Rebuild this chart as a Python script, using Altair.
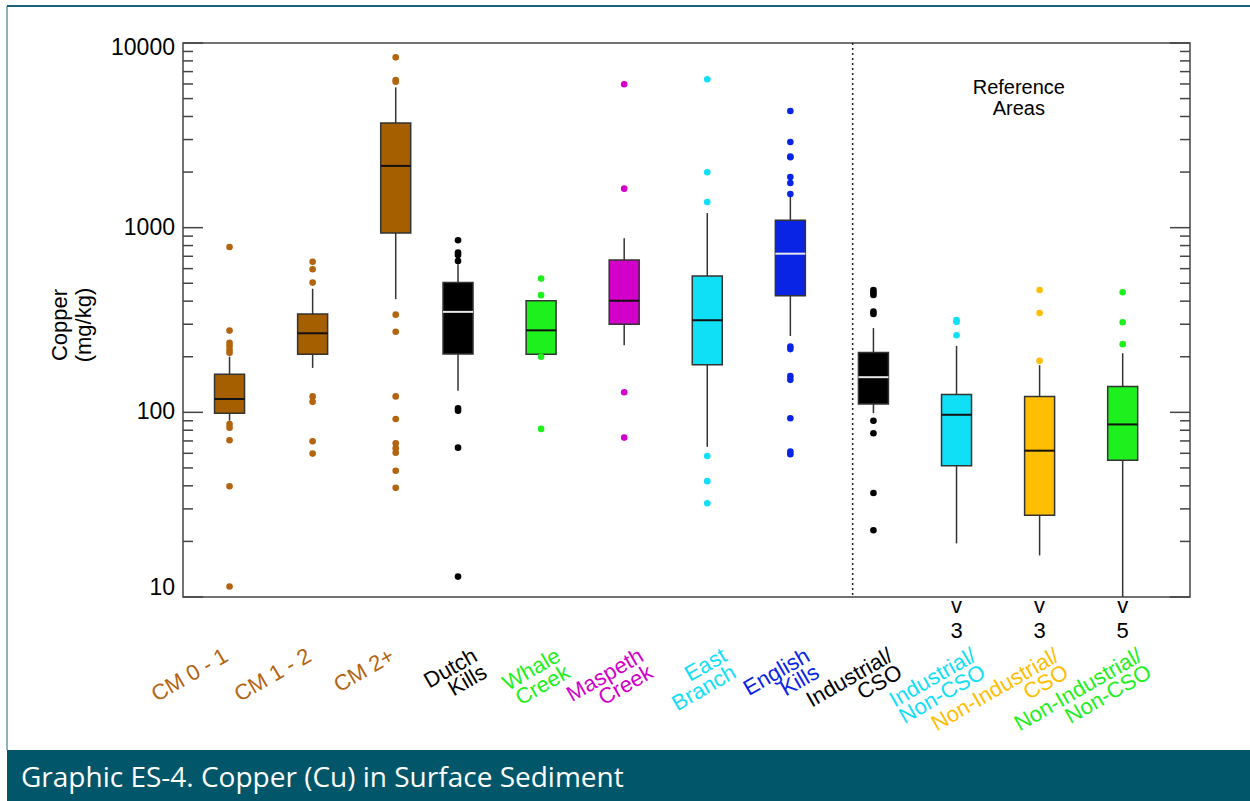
import altair as alt
import pandas as pd

# ---- data -----------------------------------------------------------------
categories = ["CM 0 - 1", "CM 1 - 2", "CM 2+", "Dutch\nKills", "Whale\nCreek",
              "Maspeth\nCreek", "East\nBranch", "English\nKills", "Industrial/\nCSO",
              "Industrial/\nNon-CSO", "Non-Industrial/\nCSO", "Non-Industrial/\nNon-CSO"]
# horizontal slot of each box on the 0-12 category axis
slot = [0.5, 1.5, 2.5, 3.25, 4.25, 5.25, 6.25, 7.25, 8.25, 9.25, 10.25, 11.25]

whisker_low = [90, 174, 410, 131, 206, 231, 65, 259, 99, 19.5, 16.8, 10]
q1 = [99, 206, 936, 207, 206, 300, 181, 428, 111, 51.3, 27.7, 55]
median = [118, 268, 2160, 350, 278, 402, 315, 723, 155, 97, 62, 86]
q3 = [161, 341, 3690, 504, 402, 668, 548, 1097, 211, 125, 122, 138]
whisker_high = [200, 467, 5750, 633, 402, 877, 1200, 1470, 286, 229, 180, 209]

outliers = [
    [786, 277, 238, 229, 218, 210, 86.5, 82.6, 70.6, 39.8, 11.4],
    [654, 595, 504, 122, 114, 69.7, 59.8],
    [8365, 6300, 6176, 338, 273, 122, 92, 68, 64, 60.5, 48.3, 39],
    [855, 733, 711, 660, 105, 102, 64.4, 12.9],
    [530, 431, 200, 81.3],
    [5975, 1626, 128.5, 73],
    [6360, 1995, 1378, 58, 42.4, 32.2],
    [4285, 2910, 2430, 2405, 1882, 1746, 1522, 227, 220, 157, 150, 92.9, 61.3, 59.3],
    [460, 445, 432, 351, 341, 90, 77, 36.6, 23],
    [316, 309, 261.5],
    [460, 345, 190],
    [447, 307.5, 234],
]

# number of samples below the plotted range
below_cats = ["Industrial/\nNon-CSO", "Non-Industrial/\nCSO", "Non-Industrial/\nNon-CSO"]
below_counts = [3, 3, 5]

# divider between study areas and reference areas, and the heading's slot
divider_slot = [8]
ref_label_slot = [10]

# ---- styling ----------------------------------------------------------------
BROWN_BOX, BROWN = "#A65F00", "#B3640F"
GREEN, MAGENTA, CYAN, BLUE, ORANGE = "#1EF01E", "#D200C8", "#10E0F6", "#0A24E6", "#FFBE00"
box_fill = [BROWN_BOX] * 3 + ["#000000", GREEN, MAGENTA, CYAN, BLUE, "#000000", CYAN, ORANGE, GREEN]
text_color = [BROWN] * 3 + ["#000000", GREEN, MAGENTA, CYAN, BLUE, "#000000", CYAN, ORANGE, GREEN]
median_color = ["#111111"] * 12
for i in (3, 7, 8):
    median_color[i] = "#E8E8E8"

FONT = "Liberation Sans"
W, H = 1007, 554
LEFT, TOP = 183, 43

boxes = pd.DataFrame({
    "cat": categories, "idx": list(range(len(categories))), "slot": slot,
    "lo": whisker_low, "q1": q1, "med": median, "q3": q3, "hi": whisker_high,
    "fill": box_fill, "tcol": text_color, "mcol": median_color,
})
pts = pd.DataFrame([
    {"slot": s, "v": v, "tcol": c}
    for s, vals, c in zip(slot, outliers, text_color) for v in vals
])
below = pd.DataFrame({"cat": below_cats, "n": [str(n) for n in below_counts]}).merge(
    boxes[["cat", "slot"]], on="cat")
one = pd.DataFrame({"k": [0]})

ysc = alt.Scale(type="log", domain=[10, 10000], nice=False)
xsc = alt.Scale(domain=[0, 12], nice=False, zero=False)
X = alt.X("slot:Q", scale=xsc, axis=None)

base = alt.Chart(boxes)

whiskers = base.mark_rule(color="#333333", strokeWidth=1.5).encode(
    x=X, y=alt.Y("lo:Q", scale=ysc, axis=None), y2="hi:Q")

box = base.mark_bar(size=30, stroke="#333333", strokeWidth=1.5).encode(
    x=X, y=alt.Y("q1:Q", scale=ysc, axis=None), y2="q3:Q",
    fill=alt.Fill("fill:N", scale=None))

meds = base.mark_tick(orient="horizontal", size=30, thickness=2, opacity=1).encode(
    x=X, y=alt.Y("med:Q", scale=ysc, axis=None), color=alt.Color("mcol:N", scale=None))

dots = alt.Chart(pts).mark_circle(size=44, opacity=1).encode(
    x=X, y=alt.Y("v:Q", scale=ysc, axis=None), color=alt.Color("tcol:N", scale=None))

divider = alt.Chart(pd.DataFrame({"slot": divider_slot})).mark_rule(
    color="#222222", strokeDash=[2, 3], strokeWidth=1.5).encode(
    x=X, y=alt.value(0), y2=alt.value(H))

# inward tick marks on both vertical edges
major = [10, 100, 1000, 10000]
minor = [m * d for d in (10, 100, 1000) for m in range(2, 10)]
maj_df = pd.DataFrame({"v": major})
min_df = pd.DataFrame({"v": minor})
TICK = dict(color="#444444", strokeWidth=1.5)
YT = alt.Y("v:Q", scale=ysc, axis=None)
tl_major = alt.Chart(maj_df).mark_rule(**TICK).encode(x=alt.value(0), x2=alt.value(20), y=YT)
tl_minor = alt.Chart(min_df).mark_rule(**TICK).encode(x=alt.value(0), x2=alt.value(10), y=YT)
tr_major = alt.Chart(maj_df).mark_rule(**TICK).encode(x=alt.value(W - 20), x2=alt.value(W), y=YT)
tr_minor = alt.Chart(min_df).mark_rule(**TICK).encode(x=alt.value(W - 10), x2=alt.value(W), y=YT)

# value labels of the log axis; the end labels sit just inside the frame
def ylabels(values, dy):
    return alt.Chart(pd.DataFrame({"v": values})).mark_text(
        font=FONT, fontSize=23, align="right", baseline="middle", dy=dy, color="#000000").encode(
        x=alt.value(-8), y=YT, text=alt.Text("v:Q", format="d"))

ylab_top = ylabels([10000], 5)
ylab_mid = ylabels([100, 1000], 0)
ylab_bot = ylabels([10], -9)

ytitle = alt.Chart(one).mark_text(
    font=FONT, fontSize=22, lineHeight=24, angle=270, align="center", baseline="middle",
    lineBreak="\n", color="#000000").encode(
    x=alt.value(-123), y=alt.value(282), text=alt.value("Copper\n(mg/kg)"))

# rotated, coloured group names under the plot, on an even grid
labels = base.transform_calculate(lx="datum.idx + 0.46").mark_text(
    angle=330, align="right", baseline="middle", lineBreak="\n", font=FONT,
    fontSize=22, lineHeight=19).encode(
    x=alt.X("lx:Q", scale=xsc, axis=None), y=alt.value(611),
    text="cat:N", color=alt.Color("tcol:N", scale=None))

below_v = alt.Chart(below).mark_text(font=FONT, fontSize=22, baseline="middle").encode(
    x=X, y=alt.value(563), text=alt.value("v"))
below_n = alt.Chart(below).mark_text(font=FONT, fontSize=22, baseline="middle").encode(
    x=X, y=alt.value(588), text="n:N")

ref_txt = alt.Chart(pd.DataFrame({"slot": ref_label_slot})).mark_text(
    font=FONT, fontSize=20, lineBreak="\n", lineHeight=21,
    baseline="middle", align="center").encode(
    x=X, y=alt.value(45), text=alt.value("Reference\nAreas"))

# page frame and caption banner
frame_left = alt.Chart(one).mark_rule(color="#6A97A6", strokeWidth=1.5).encode(
    x=alt.value(7 - LEFT), y=alt.value(6 - TOP), y2=alt.value(750 - TOP))
frame_top = alt.Chart(one).mark_rule(color="#1A6079", strokeWidth=2).encode(
    x=alt.value(7 - LEFT), x2=alt.value(1250 - LEFT), y=alt.value(6 - TOP))
banner = alt.Chart(one).mark_rect(color="#02566A").encode(
    x=alt.value(7 - LEFT), x2=alt.value(1250 - LEFT), y=alt.value(750 - TOP), y2=alt.value(801 - TOP))
caption = alt.Chart(one).mark_text(font="Open Sans", fontSize=28, color="#FFFFFF",
                                   align="left", baseline="middle").encode(
    x=alt.value(21 - LEFT), y=alt.value(779 - TOP),
    text=alt.value("Graphic ES-4. Copper (Cu) in Surface Sediment"))

chart = alt.layer(
    banner, frame_left, frame_top, caption,
    whiskers, box, meds, dots, divider,
    tl_major, tl_minor, tr_major, tr_minor,
    ylab_top, ylab_mid, ylab_bot, ytitle,
    labels, below_v, below_n, ref_txt,
).properties(
    width=W, height=H,
    autosize=alt.AutoSizeParams(type="none"),
    padding={"left": LEFT, "top": TOP, "right": 1250 - LEFT - W, "bottom": 801 - TOP - H},
    background="#FFFFFF",
).configure_view(stroke="#444444", strokeWidth=1.5)

chart.save("out.html", embed_options={"renderer": "svg", "actions": False})
